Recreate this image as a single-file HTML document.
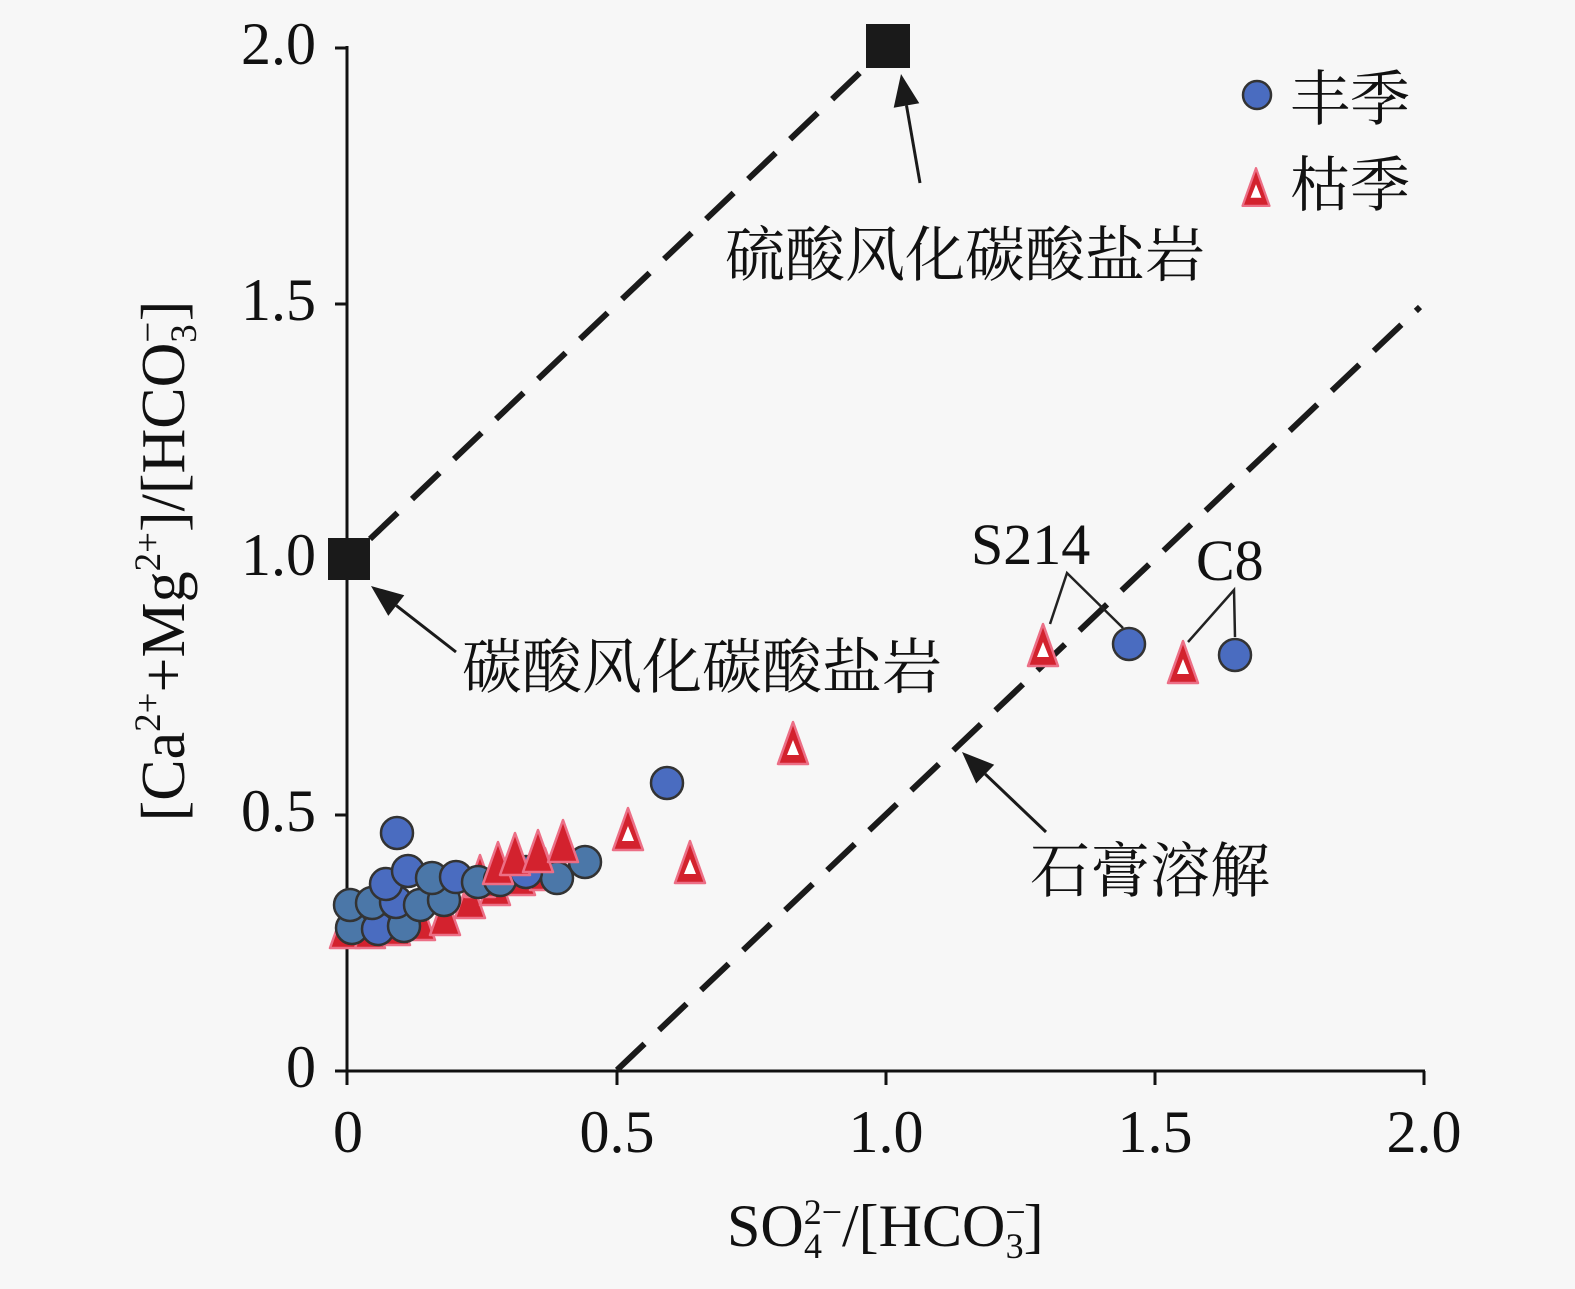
<!DOCTYPE html>
<html>
<head>
<meta charset="utf-8">
<style>
  html, body { margin: 0; padding: 0; background: #f7f7f7; }
  svg { display: block; }
  .serif { font-family: "Liberation Serif", "Noto Serif CJK SC", serif; fill: #111; }
  .cjk { font-family: "Liberation Serif", "Noto Serif CJK SC", "Noto Sans CJK SC", serif; fill: #111; }
</style>
</head>
<body>
<svg width="1575" height="1289" viewBox="0 0 1575 1289" xmlns="http://www.w3.org/2000/svg">
  <defs>
    <g id="tri">
      <polygon points="0,-21 -15,21 15,21" fill="#d3222e" stroke="#ec6f86" stroke-width="2.5" stroke-linejoin="round"/>
    </g>
    <g id="trio">
      <polygon points="0,-21 -15,21 15,21" fill="#d3222e" stroke="#ec6f86" stroke-width="2.5" stroke-linejoin="round"/>
      <polygon points="0,-3 -6,12 6,12" fill="#ffffff"/>
    </g>
    <g id="cir">
      <circle r="16" fill="#4b77a8" stroke="#333" stroke-width="2.5"/>
    </g>
    <g id="cirb">
      <circle r="16" fill="#4a6cc0" stroke="#333" stroke-width="2.5"/>
    </g>
  </defs>

  <rect x="0" y="0" width="1575" height="1289" fill="#f7f7f7"/>

  <!-- Axes -->
  <g stroke="#111" stroke-width="3" fill="none">
    <line x1="347" y1="46" x2="347" y2="1071"/>
    <line x1="347" y1="1071" x2="1425" y2="1071"/>
    <!-- y ticks -->
    <line x1="335" y1="48" x2="347" y2="48"/>
    <line x1="335" y1="304" x2="347" y2="304"/>
    <line x1="335" y1="559" x2="347" y2="559"/>
    <line x1="335" y1="815" x2="347" y2="815"/>
    <line x1="335" y1="1071" x2="347" y2="1071"/>
    <!-- x ticks -->
    <line x1="347" y1="1071" x2="347" y2="1085"/>
    <line x1="617" y1="1071" x2="617" y2="1085"/>
    <line x1="886" y1="1071" x2="886" y2="1085"/>
    <line x1="1155" y1="1071" x2="1155" y2="1085"/>
    <line x1="1424" y1="1071" x2="1424" y2="1085"/>
  </g>

  <!-- Tick labels -->
  <g class="serif" font-size="60" text-anchor="end">
    <text x="316" y="64">2.0</text>
    <text x="316" y="320">1.5</text>
    <text x="316" y="575">1.0</text>
    <text x="316" y="831">0.5</text>
    <text x="316" y="1087">0</text>
  </g>
  <g class="serif" font-size="60" text-anchor="middle">
    <text x="348" y="1152">0</text>
    <text x="617" y="1152">0.5</text>
    <text x="886" y="1152">1.0</text>
    <text x="1155" y="1152">1.5</text>
    <text x="1424" y="1152">2.0</text>
  </g>

  <!-- Axis titles -->
  <text class="serif" x="727" y="1246" font-size="60">SO<tspan font-size="36" dy="-22">2−</tspan><tspan font-size="36" dx="-38" dy="34">4</tspan><tspan dx="20" dy="-12">/[HCO</tspan><tspan font-size="36" dy="-22">−</tspan><tspan font-size="36" dx="-20" dy="34">3</tspan><tspan dy="-12">]</tspan></text>

  <text class="serif" transform="translate(184,561) rotate(-90)" text-anchor="middle" font-size="62">[Ca<tspan font-size="37" dy="-24">2+</tspan><tspan dy="24">+Mg</tspan><tspan font-size="37" dy="-24">2+</tspan><tspan dy="24">]/[HCO</tspan><tspan font-size="37" dy="-24">−</tspan><tspan font-size="37" dx="-21" dy="36">3</tspan><tspan dx="3" dy="-12">]</tspan></text>

  <!-- Dashed reference lines -->
  <g stroke="#1a1a1a" stroke-width="6" fill="none" stroke-dasharray="38 20">
    <line x1="349" y1="559" x2="888" y2="46" stroke-dashoffset="29"/>
    <line x1="617" y1="1070" x2="1420" y2="307"/>
  </g>

  <!-- End-member squares -->
  <rect x="866" y="24" width="44" height="44" fill="#1a1a1a"/>
  <rect x="328" y="538" width="42" height="42" fill="#1a1a1a"/>

  <!-- Arrows -->
  <g stroke="#1a1a1a" stroke-width="3" fill="none">
    <line x1="920" y1="183" x2="906.5" y2="105.5"/>
    <line x1="456" y1="652" x2="396.3" y2="605.6"/>
    <line x1="1046" y1="832" x2="985.2" y2="774.1"/>
  </g>
  <g fill="#1a1a1a">
    <polygon points="901,74 919.3,103.3 893.7,107.7"/>
    <polygon points="371,586 404.3,595.3 388.3,615.9"/>
    <polygon points="962,752 994.2,764.7 976.2,783.5"/>
  </g>

  <!-- Annotation text -->
  <g class="cjk" font-size="60">
    <text x="725" y="276">硫酸风化碳酸盐岩</text>
    <text x="462" y="688">碳酸风化碳酸盐岩</text>
    <text x="1030" y="892">石膏溶解</text>
    <text x="1290" y="120">丰季</text>
    <text x="1290" y="206">枯季</text>
  </g>
  <g class="serif" font-size="58">
    <text x="971" y="564">S214</text>
    <text x="1196" y="580">C8</text>
  </g>

  <!-- S214 / C8 leader lines -->
  <g stroke="#222" stroke-width="2.5" fill="none">
    <polyline points="1050,624 1067,573 1123,628"/>
    <polyline points="1188,642 1234,590 1235,637"/>
  </g>

  <!-- Legend markers -->
  <g transform="translate(1257,95)"><circle r="14" fill="#4a6cc0" stroke="#333" stroke-width="2.5"/></g>
  <g transform="translate(1256,187) scale(0.9)"><use href="#trio"/></g>

  <!-- Cluster: bottom triangles -->
  <use href="#tri" x="345" y="927"/>
  <use href="#tri" x="370" y="927"/>
  <use href="#tri" x="395" y="924"/>
  <use href="#tri" x="420" y="919"/>
  <use href="#tri" x="445" y="914"/>
  <use href="#tri" x="470" y="897"/>
  <use href="#tri" x="495" y="884"/>
  <use href="#tri" x="520" y="874"/>
  <use href="#tri" x="545" y="869"/>
  <use href="#tri" x="480" y="876"/>

  <!-- Cluster: circles -->
  <use href="#cir" x="557" y="878"/>
  <use href="#cir" x="585" y="862"/>
  <use href="#cir" x="352" y="928"/>
  <use href="#cirb" x="378" y="929"/>
  <use href="#cir" x="404" y="926"/>
  <use href="#cir" x="350" y="905"/>
  <use href="#cir" x="372" y="903"/>
  <use href="#cirb" x="396" y="902"/>
  <use href="#cir" x="420" y="905"/>
  <use href="#cir" x="444" y="900"/>
  <use href="#cirb" x="386" y="884"/>
  <use href="#cirb" x="408" y="871"/>
  <use href="#cir" x="432" y="878"/>
  <use href="#cirb" x="456" y="877"/>
  <use href="#cir" x="478" y="882"/>
  <use href="#cir" x="500" y="880"/>
  <use href="#cirb" x="526" y="872"/>
  <use href="#cirb" x="397" y="833"/>

  <!-- Cluster: top triangles -->
  <use href="#tri" x="498" y="863"/>
  <use href="#tri" x="515" y="854"/>
  <use href="#tri" x="538" y="851"/>
  <use href="#tri" x="563" y="841"/>

  <!-- Isolated points -->
  <use href="#cirb" x="667" y="783"/>
  <use href="#trio" x="628" y="829"/>
  <use href="#trio" x="690" y="862"/>
  <use href="#trio" x="793" y="743"/>
  <use href="#trio" x="1043" y="645"/>
  <use href="#cirb" x="1129" y="644"/>
  <use href="#trio" x="1183" y="662"/>
  <use href="#cirb" x="1235" y="655"/>
</svg>
</body>
</html>
